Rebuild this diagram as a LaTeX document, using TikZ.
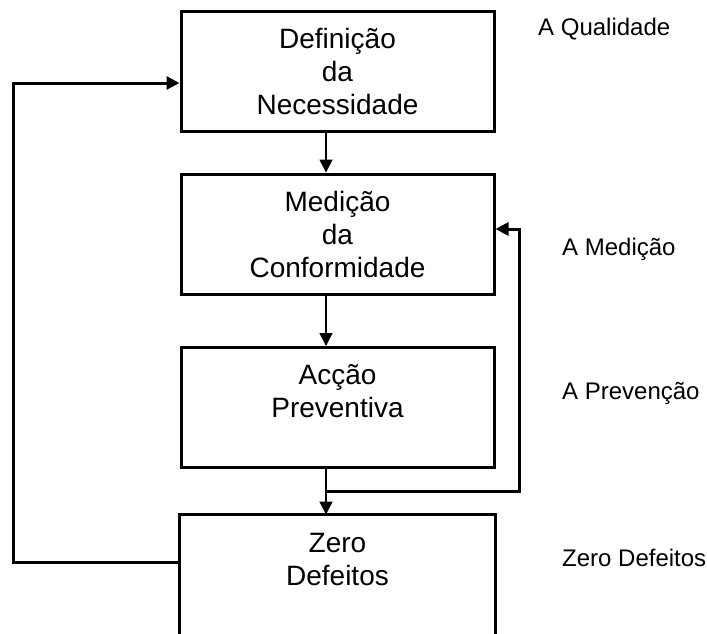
\documentclass[tikz,border=0pt]{standalone}
\usepackage{fontspec}
\setmainfont{Liberation Sans}
\usetikzlibrary{arrows.meta}

\begin{document}
\begin{tikzpicture}[x = 1pt, y = -1pt, > = {Triangle[length = 13pt, width = 13pt]},
	stage/.style = {rectangle, draw, line width = 3pt, minimum width = 313pt, minimum height = 120pt, inner sep = 0pt, align = center, font = \fontsize{28}{33}\selectfont},
	phase/.style = {anchor = base west, inner sep = 0pt, font = \fontsize{24}{28}\selectfont}]

	\useasboundingbox (0, 0) rectangle (707, 633);

	% Stage boxes

	\node[stage] (need) at (337.5, 71) {Definição\\da\\Necessidade};
	\node[stage] (conf) at (337.5, 234) {Medição\\da\\Conformidade};
	\node[stage] (prev) at (337.5, 407.5) {Acção\\Preventiva\\\mbox{}};
	\node[stage, draw = none] (zero) at (337.5, 576) {Zero\\Defeitos\\\mbox{}};
	\draw[line width = 3pt] (zero.south west) -- (zero.north west) -- (zero.north east) -- (zero.south east);

	% Phase names

	\node[phase] (quality) at (538, 35) {A Qualidade};
	\node[phase] (measure) at (562, 255) {A Medição};
	\node[phase] (prevent) at (562, 399) {A Prevenção};
	\node[phase] (nodefect) at (562, 566) {Zero Defeitos};

	% Arrows between stages

	\begin{scope}[->, line width = 1.5pt]
		\draw ([xshift = -11.5pt]need.south) -- ([xshift = -11.5pt]conf.north);
		\draw ([xshift = -11.5pt]conf.south) -- ([xshift = -11.5pt]prev.north);
		\draw ([xshift = -11.5pt]prev.south) -- ([xshift = -11.5pt]zero.north);
	\end{scope}

	% Feedback loops

	\coordinate (join) at (326, 491);

	\begin{scope}[->, line width = 3pt]
		\draw (join) -| ([xshift = 24pt, yshift = 5pt]conf.east) -- ([yshift = 5pt]conf.east);
		\draw ([yshift = 14pt]zero.west) -| ([xshift = -166pt, yshift = -12pt]need.west) -- ([yshift = -12pt]need.west);
	\end{scope}

\end{tikzpicture}
\end{document}
